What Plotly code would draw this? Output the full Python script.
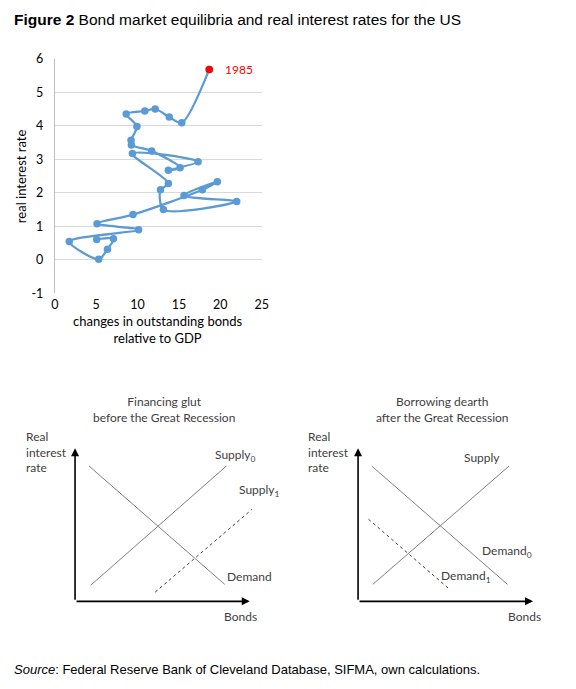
import plotly.graph_objects as go

# top panel: bonds change vs real rate, 1985 onwards
years = list(range(1985, 2014))
bonds_change = [18.66, 15.34, 13.83, 12.13, 10.87, 8.62, 9.92, 9.21, 9.25, 11.70,
                15.14, 13.72, 17.31, 9.37, 13.72, 12.77, 13.12, 21.98, 15.61, 19.64,
                17.83, 9.45, 5.10, 10.12, 1.74, 5.30, 6.36, 7.08, 5.06]
real_rate = [5.68, 4.09, 4.26, 4.50, 4.44, 4.35, 3.98, 3.57, 3.43, 3.25,
             2.75, 2.67, 2.93, 3.17, 2.28, 2.09, 1.50, 1.74, 1.92, 2.33,
             2.09, 1.35, 1.08, 0.90, 0.55, 0.02, 0.32, 0.63, 0.61]
x_ticks = [0, 5, 10, 15, 20, 25]
y_ticks = [-1, 0, 1, 2, 3, 4, 5, 6]
y_tick_text = ['-1', '0', '1', '2', '3', '4', '5', '6']

# schematic curves (diagram units, 0-10)
glut_demand_x = [0.78, 8.31]
glut_demand_y = [8.83, 1.11]
glut_supply0_x = [0.87, 8.40]
glut_supply0_y = [1.05, 8.83]
glut_supply1_x = [4.45, 9.82]
glut_supply1_y = [0.60, 6.00]

dearth_demand0_x = [0.76, 8.28]
dearth_demand0_y = [8.83, 1.11]
dearth_supply_x = [0.82, 8.37]
dearth_supply_y = [1.11, 8.83]
dearth_demand1_x = [0.58, 5.11]
dearth_demand1_y = [5.36, 0.75]

# page body keeps its default 8px margin, so the figure is sized to fit inside it
PAD = 8
W, H = 576 - 2 * PAD, 689 - 2 * PAD
BLUE = '#5b9bd5'
GREY = '#404040'


def px(x):
    return (x - PAD) / W


def py(y):
    return 1 - (y - PAD) / H


fig = go.Figure()

fig.add_trace(go.Scatter(x=bonds_change, y=real_rate, mode='lines+markers',
                         line=dict(color=BLUE, width=2.25, shape='spline', smoothing=0.8),
                         marker=dict(color=BLUE, size=7.5), xaxis='x', yaxis='y'))
fig.add_trace(go.Scatter(x=bonds_change[:1], y=real_rate[:1], mode='markers',
                         marker=dict(color='#ff0000', size=7.5), xaxis='x', yaxis='y'))

# left diagram
line_style = dict(color='#7f7f7f', width=1)
dot_style = dict(color='#404040', width=1, dash='dot')
fig.add_trace(go.Scatter(x=glut_demand_x, y=glut_demand_y, mode='lines', line=line_style,
                         xaxis='x2', yaxis='y2'))
fig.add_trace(go.Scatter(x=glut_supply0_x, y=glut_supply0_y, mode='lines', line=line_style,
                         xaxis='x2', yaxis='y2'))
fig.add_trace(go.Scatter(x=glut_supply1_x, y=glut_supply1_y, mode='lines', line=dot_style,
                         xaxis='x2', yaxis='y2'))

# right diagram
fig.add_trace(go.Scatter(x=dearth_demand0_x, y=dearth_demand0_y, mode='lines', line=line_style,
                         xaxis='x3', yaxis='y3'))
fig.add_trace(go.Scatter(x=dearth_supply_x, y=dearth_supply_y, mode='lines', line=line_style,
                         xaxis='x3', yaxis='y3'))
fig.add_trace(go.Scatter(x=dearth_demand1_x, y=dearth_demand1_y, mode='lines', line=dot_style,
                         xaxis='x3', yaxis='y3'))

hidden = dict(visible=False, range=[0, 10], fixedrange=True)

fig.update_layout(
    width=W, height=H,
    margin=dict(l=0, r=0, t=0, b=0),
    paper_bgcolor='white', plot_bgcolor='white',
    showlegend=False,
    font=dict(family='Lato', size=12, color='black'),
    xaxis=dict(domain=[px(51.7), px(262.7)], range=[0, 25], tickvals=x_ticks,
               showgrid=False, zeroline=False, showline=True, linecolor='white',
               ticks='', ticklabelstandoff=0, tickfont=dict(size=12.5)),
    yaxis=dict(domain=[py(291.7), py(51.7)], range=[-1, 6], tickvals=y_ticks,
               ticktext=y_tick_text,
               showgrid=True, gridcolor='#d9d9d9', gridwidth=1, zeroline=False,
               showline=True, linecolor='#bfbfbf', ticks='', ticklabelstandoff=8,
               tickfont=dict(size=12.5)),
    xaxis2=dict(domain=[px(72.3), px(256)], anchor='y2', **hidden),
    yaxis2=dict(domain=[py(606.7), py(450)], anchor='x2', **hidden),
    xaxis3=dict(domain=[px(361), px(545)], anchor='y3', **hidden),
    yaxis3=dict(domain=[py(606.7), py(450)], anchor='x3', **hidden),
)


def label(x, y, text, xanchor='center', font=None, **kw):
    return dict(x=px(x), y=py(y), xref='paper', yref='paper', xanchor=xanchor, yanchor='middle',
                align=xanchor if xanchor != 'center' else 'center', showarrow=False, text=text,
                font=font or {}, **kw)


ann = []
ann.append(label(8, 12, '<b>Figure 2</b> Bond market equilibria and real interest rates for the US',
                 'left', dict(family='Liberation Sans', size=15.5, color='black')))
ann.append(label(8, 676, '<i>Source</i>: Federal Reserve Bank of Cleveland Database, SIFMA, own calculations.',
                 'left', dict(family='Liberation Sans', size=13, color='black')))

# top panel texts
ann.append(label(18, 172, 'real interest rate', 'center', dict(size=13), textangle=-90))
ann.append(label(157, 329, 'changes in outstanding bonds<br>relative to GDP', 'center', dict(size=13)))
ann.append(label(223, 63, '1985', 'left', dict(size=12, color='#ff0000')))

# diagram axes as arrows
for xr, yr in [('x2', 'y2'), ('x3', 'y3')]:
    ann.append(dict(x=9.7, y=0, ax=0, ay=0, xref=xr, yref=yr, axref=xr, ayref=yr, text='',
                    showarrow=True, arrowhead=2, arrowsize=1, arrowwidth=1.6, arrowcolor='black'))
    ann.append(dict(x=0, y=10, ax=0, ay=0, xref=xr, yref=yr, axref=xr, ayref=yr, text='',
                    showarrow=True, arrowhead=2, arrowsize=1, arrowwidth=1.6, arrowcolor='black'))

small = dict(size=12, color=GREY)
diag_text = [
    (163, 410, 'center', 'Financing glut<br>before the Great Recession'),
    (447, 410, 'center', 'Borrowing dearth<br>after the Great Recession'),
    (20, 454, 'left', 'Real<br>interest<br>rate'),
    (308, 454, 'left', 'Real<br>interest<br>rate'),
    (213, 458, 'left', 'Supply<sub>0</sub>'),
    (238, 493, 'left', 'Supply<sub>1</sub>'),
    (225, 581, 'left', 'Demand'),
    (222, 622, 'left', 'Bonds'),
    (467, 460, 'left', 'Supply'),
    (485, 556, 'left', 'Demand<sub>0</sub>'),
    (444, 581, 'left', 'Demand<sub>1</sub>'),
    (512, 622, 'left', 'Bonds'),
]
for x, y, anchor, t in diag_text:
    ann.append(label(x, y, t, anchor, small))

fig.update_layout(annotations=ann)

fig.write_html("out.html")
